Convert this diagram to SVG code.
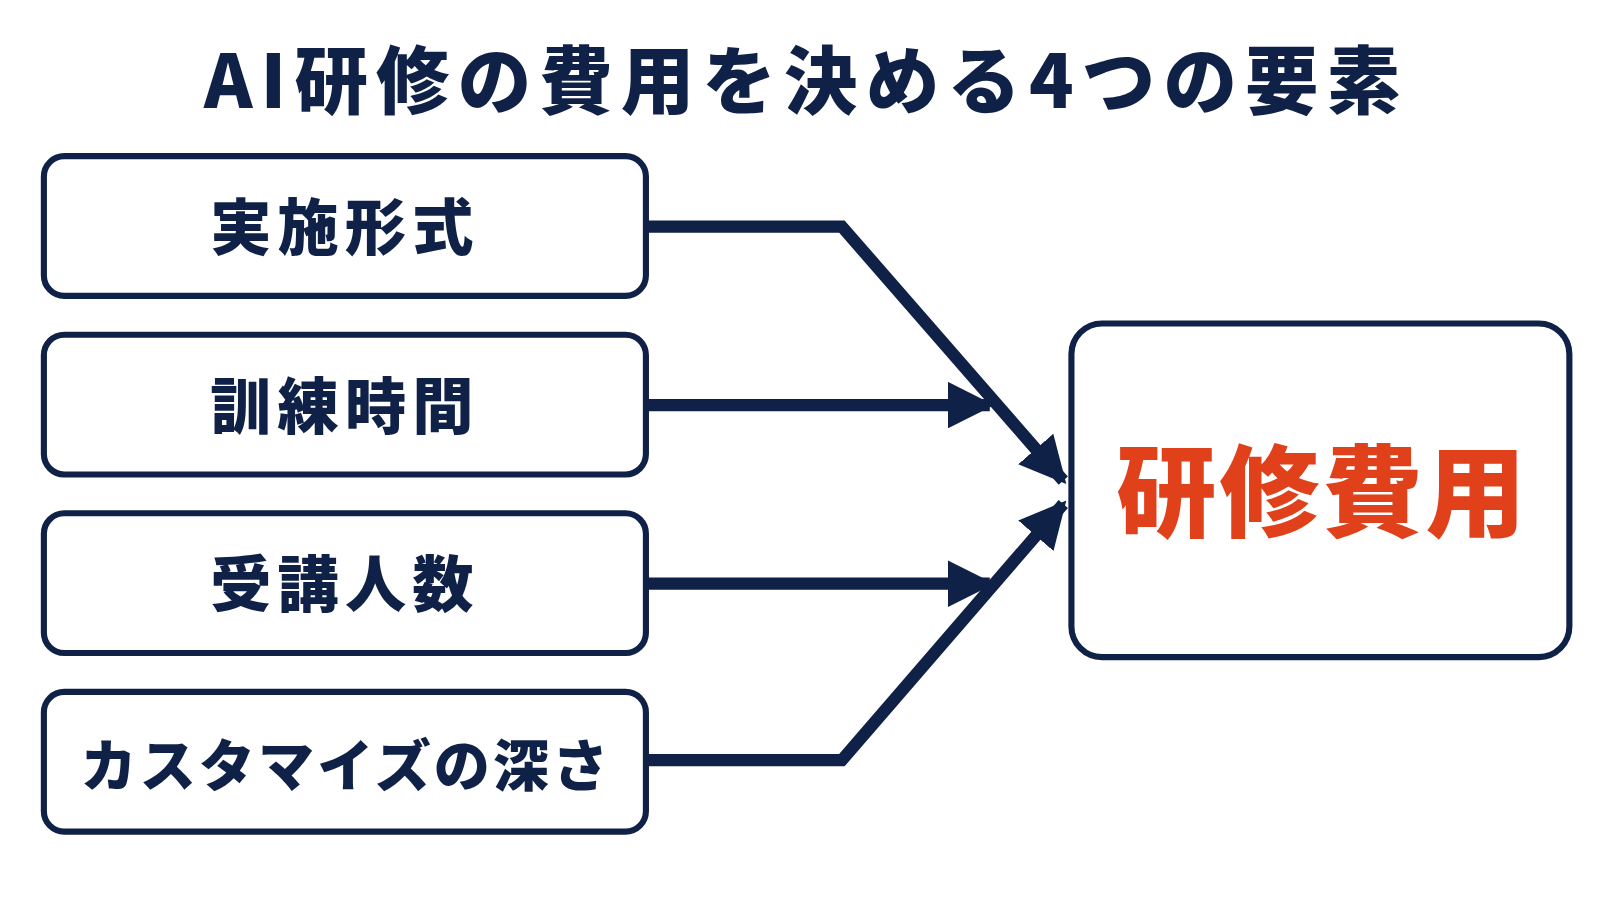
<svg xmlns="http://www.w3.org/2000/svg" width="1600" height="900" viewBox="0 0 1600 900">
<style>
.box{fill:#fff;stroke:#0f2147;stroke-width:6}
.t{font-family:"Noto Sans CJK JP",sans-serif;font-weight:900;fill:#0f2147;text-anchor:middle}
.c{fill:none;stroke:#0f2147;stroke-width:12}
</style>
<defs>
<marker id="a" viewBox="0 0 10 10" refX="9" refY="5" markerWidth="3.8" markerHeight="3.8" orient="auto" markerUnits="strokeWidth">
<path d="M0,0 L10,5 L0,10 z" fill="#0f2147"/>
</marker>
</defs>
<rect width="1600" height="900" fill="#fff"/>
<g transform="scale(1.0204)">
<text class="t" x="790" y="106" font-size="72" letter-spacing="8">AI研修の費用を決める4つの要素</text>
<g id="connectors">
<polyline class="c" points="633,222 825,222 1042,471" marker-end="url(#a)"/>
<line class="c" x1="633" y1="397" x2="970" y2="397" marker-end="url(#a)"/>
<line class="c" x1="633" y1="572" x2="970" y2="572" marker-end="url(#a)"/>
<polyline class="c" points="633,745 825,745 1042,494" marker-end="url(#a)"/>
</g>
<g id="n1"><rect class="box" x="43" y="153" width="590" height="137" rx="20"/><text class="t" x="338" y="245" font-size="60" letter-spacing="6">実施形式</text></g>
<g id="n2"><rect class="box" x="43" y="328" width="590" height="137" rx="20"/><text class="t" x="338" y="420" font-size="60" letter-spacing="6">訓練時間</text></g>
<g id="n3"><rect class="box" x="43" y="503" width="590" height="137" rx="20"/><text class="t" x="338" y="595" font-size="60" letter-spacing="6">受講人数</text></g>
<g id="n4"><rect class="box" x="43" y="678" width="590" height="137" rx="20"/><text class="t" x="339" y="770" font-size="55" letter-spacing="3">カスタマイズの深さ</text></g>
<g id="n5"><rect class="box" x="1050" y="317" width="488" height="327" rx="30"/><text class="t" x="1296" y="518" font-size="98" letter-spacing="3" style="fill:#e0401a">研修費用</text></g>
</g>
</svg>
